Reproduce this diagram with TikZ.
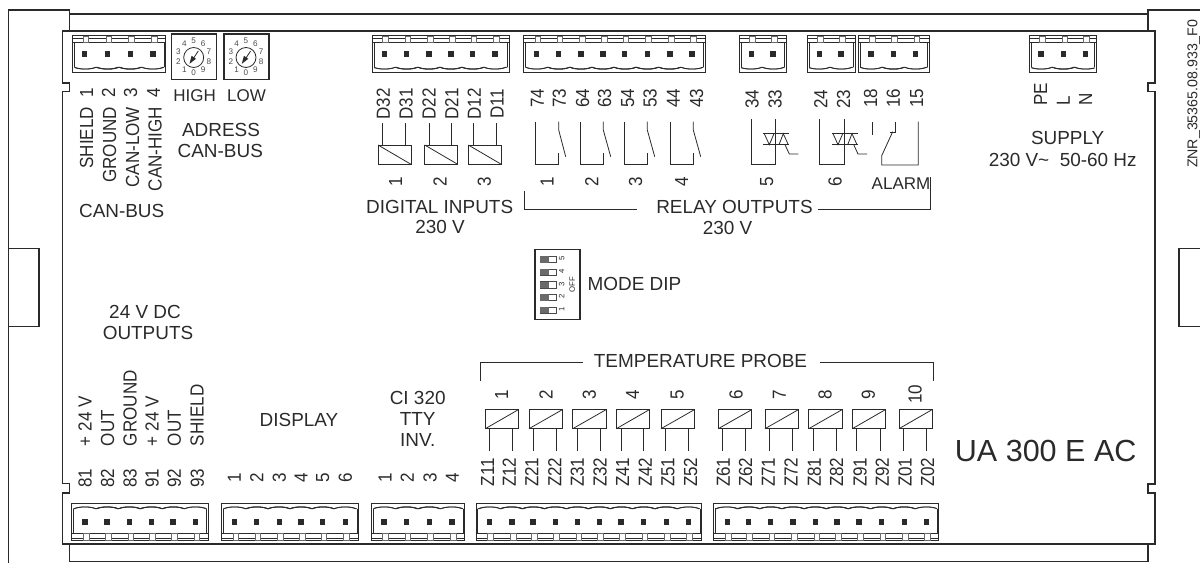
\documentclass[tikz,border=0pt]{standalone}
\usepackage{fontspec}
\usepackage{graphicx}
\setmainfont{Liberation Sans}
\definecolor{ink}{HTML}{2A2A2A}
\newcount\lblc
\newcommand\tick{\global\advance\lblc by 1 }
\newcommand\fmain{\fontsize{12.75}{14}\selectfont}
\newcommand\fbig{\fontsize{14.2}{16}\selectfont}
\newcommand\fsmall{\fontsize{6.1}{7}\selectfont}
\newcommand\rtxt[1]{\scalebox{.9}[1]{\fbig #1}}
\newcommand\lab[3]{\tick\node[txt] (t\the\lblc) at (#1,#2) {\fmain #3};}
\newcommand\blab[3]{\tick\node[txt] (t\the\lblc) at (#1,#2) {\fbig #3};}
\newcommand\rlab[3]{\tick\node[txt,rotate=90] (t\the\lblc) at (#1,#2) {\rtxt{#3}};}
\newcommand\rend[3]{\tick\node[txt,rotate=90,anchor=east] (t\the\lblc) at (#1,#2) {\rtxt{#3}};}
\newcommand\rbeg[3]{\tick\node[txt,rotate=90,anchor=west] (t\the\lblc) at (#1,#2) {\rtxt{#3}};}
% plug: x0, x1, pins, outer y, yscale
\newcommand\plug[5]{%
 \begin{scope}[shift={(0,#4)},yscale=#5]
  \draw[thinl,line width=.75pt] (#1,0) rectangle (#2,36.8);
  \draw[thinl,line width=.4pt] (#1,2.3) -- (#2,2.3);
  \draw[thinl] (#1,6.6) -- (#2,6.6);
  \draw[thinl] (#1+1.7,6.6) -- (#1+1.7,31.5);
  \draw[thinl] (#2-1.7,6.6) -- (#2-1.7,31.5);
  \begin{scope}
   \clip (#1+1.7,20) rectangle (#2-1.7,36);
   \foreach \p in {#3}{
    \draw[thinl] (\p-11.2,31.5) .. controls (\p-5.6,34) and (\p+5.6,34) .. (\p+11.2,31.5);
    \draw[thinl] (\p-33,31.5) .. controls (\p-27.6,34) and (\p-17,34) .. (\p-11.2,31.5);
    \draw[thinl] (\p+11.2,31.5) .. controls (\p+17,34) and (\p+27.6,34) .. (\p+33,31.5);
   }
  \end{scope}
  \foreach \p in {#3}{
   \draw[draw=ink!70,fill=white,line width=.4pt] (\p-1.6,0.2) rectangle (\p+4,6.6);
   \fill[ink] (\p-2.6,15.8) rectangle (\p+2.6,21);
  }
 \end{scope}}
\newcommand\coil[5]{\draw[thinl] (#1,#3) rectangle (#2,#4);\draw[thinl] (#1,#5) -- (#2,#3+#4-#5);}
\newcommand\rotary[1]{%
 \begin{scope}[shift={(#1,0)}]
  \draw[thinl,line width=.9pt] (171.7,34) rectangle (216.7,79.3);
  \draw[thinl] (193.7,57.5) circle (10);
  \foreach \d in {0,...,9}{
   \tick\node[txt,text=ink!85] (t\the\lblc) at ({193.7+16*cos(270-36*\d)},{57-16*sin(270-36*\d)}) {\fsmall \d};
  }
  \draw[thinl] (198.3,51) -- (193,59);
  \fill[ink] (189.5,63.8) -- (191.6,55.8) -- (196,58.8) -- cycle;
 \end{scope}}
\newcommand\relaysym[3]{\draw[thinl] (#1,121.7) -- (#1,164.3) -- (#2,164.3) -- (#2,153.3);
 \draw[thinl] (#2,121.7) -- (#2,130) -- (#3,156.7);}
\newcommand\triac[1]{%
 \begin{scope}[shift={(#1,0)}]
  \draw[thinl] (751,119.3) -- (751,164) -- (775.7,164) -- (775.7,119.3);
  \draw[thinl] (763.3,133.7) -- (789.3,133.7) (763.3,144.7) -- (789.3,144.7);
  \draw[thinl] (764.3,133.7) -- (769.3,144.7) -- (774,133.7);
  \draw[thinl] (779,144.7) -- (783.3,133.7) -- (788.3,144.7);
  \draw[thinl] (785,144.7) -- (789.3,154) -- (798.3,154);
 \end{scope}}
\tikzset{
 txt/.style={inner sep=0pt,outer sep=0pt,text=ink},
 frame/.style={draw=ink,line width=.95pt,line join=miter},
 thinl/.style={draw=ink,line width=.6pt}
}
\begin{document}
\begin{tikzpicture}[x=.75pt,y=-.75pt]
\useasboundingbox (0,0) rectangle (1200,563);
% frames
\draw[frame] (8.3,563) -- (8.3,10) -- (69.3,10) -- (69.3,31);
\draw[frame] (69.3,14) -- (1148,14);
\draw[frame] (1148,31) -- (1148,10) -- (1200,10);
\draw[frame] (62.7,31) -- (1155,31) -- (1155,83) -- (1148,83) -- (1148,91.5) -- (1155,91.5) -- (1155,484) -- (1148,484) -- (1148,493) -- (1155,493) -- (1155,544) -- (62.7,544) -- (62.7,493) -- (69.3,493) -- (69.3,483.5) -- (62.7,483.5) -- (62.7,91.5) -- (69.3,91.5) -- (69.3,83) -- (62.7,83) -- cycle;
\draw[frame] (69.3,544) -- (69.3,561.8) -- (1148,561.8) -- (1148,544);
\draw[frame] (8.3,248.7) -- (39,248.7) -- (39,326.7) -- (8.3,326.7);
\draw[frame] (1200,248.3) -- (1179,248.3) -- (1179,326.7) -- (1200,326.7);
% top plugs
\plug{72.7}{165.7}{84.7,107.7,130.3,153}{35.7}{1}
\plug{372.3}{509}{384.3,406.7,429,451,472.7,495}{35.7}{1}
\plug{523.7}{705}{536.7,558.7,581,603,624.7,647.3,670,692}{35.7}{1}
\plug{739.3}{786.3}{751.3,773}{35.7}{1}
\plug{807.3}{855}{819.3,841}{35.7}{1}
\plug{858.3}{929.3}{871,893.3,915.7}{35.7}{1}
\plug{1029.7}{1096.3}{1041,1063.7,1085.3}{35.7}{1}
% bottom plugs
\plug{71.7}{208.3}{85,107,129.7,151.3,173,195.7}{540.3}{-1}
\plug{221.7}{358.7}{234.7,256.7,279.3,301,322.7,345.3}{540.3}{-1}
\plug{371.7}{464.7}{384,406.7,429.3,452}{540.3}{-1}
\plug{476}{701.7}{489.3,512,533,555.3,577.7,599.3,621,643.7,666.3,688.3}{540.3}{-1}
\plug{713.3}{938.7}{727.3,748.3,770.7,793,815.7,837,859,881.7,904.3,926.3}{540.3}{-1}
% rotary switches
\rotary{0}
\rotary{52.3}
% CAN labels
\rlab{86.5}{93}{1}\rlab{108.5}{93}{2}\rlab{130.5}{93}{3}\rlab{153.5}{93}{4}
\rend{86.7}{107}{SHIELD}\rend{109.7}{107}{GROUND}\rend{132.7}{107}{CAN-LOW}\rend{155}{107}{CAN-HIGH}
\blab{121.7}{211}{CAN-BUS}
\lab{194.7}{95.3}{HIGH}\lab{246.5}{95.3}{LOW}
\blab{221}{130}{ADRESS}\blab{220.3}{151}{CAN-BUS}
% digital inputs
\rlab{383.3}{104}{D32}\rlab{406}{104}{D31}\rlab{429}{104}{D22}\rlab{451.7}{104}{D21}\rlab{474.3}{104}{D12}\rlab{497}{104}{D11}
\draw[thinl] (382.7,123.3) -- (382.7,145) (405.3,123.3) -- (405.3,145) (429,123.3) -- (429,145) (451.7,123.3) -- (451.7,145) (473,123.3) -- (473,145) (496,123.3) -- (496,145);
\coil{378}{411}{145}{164.3}{145}
\coil{424.7}{457.7}{145}{164.3}{145}
\coil{468.3}{501.3}{145}{164.3}{145}
\rlab{395.7}{181.7}{1}\rlab{440}{181.7}{2}\rlab{484.3}{181.7}{3}
\blab{439.7}{206.7}{DIGITAL INPUTS}\blab{440}{227.3}{230 V}
% relays
\rlab{537.3}{98.5}{74}\rlab{559.3}{98.5}{73}\rlab{582.7}{98.5}{64}\rlab{604.7}{98.5}{63}\rlab{627.7}{98.5}{54}\rlab{650}{98.5}{53}\rlab{673.3}{98.5}{44}\rlab{696.7}{98.5}{43}
\rlab{752}{99}{34}\rlab{775}{99}{33}\rlab{820.7}{99}{24}\rlab{843.7}{99}{23}\rlab{870.7}{98}{18}\rlab{893.3}{98}{16}\rlab{916.7}{98}{15}
\relaysym{535.7}{558.7}{565.7}
\relaysym{580.3}{603.3}{610.7}
\relaysym{624}{647.3}{654.7}
\relaysym{670}{693.3}{700.7}
\triac{0}
\triac{68.7}
\draw[thinl] (872.7,122.3) -- (872.7,135);
\draw[thinl] (895.7,121.7) -- (895.7,132.3) -- (889.5,132.3);
\draw[thinl] (892.7,131.7) -- (881.7,155.7) -- (881.7,165) -- (918.3,165) -- (918.3,121.7);
\rlab{547}{181.7}{1}\rlab{591.7}{181.7}{2}\rlab{635.7}{181.7}{3}\rlab{681.7}{181.7}{4}\rlab{766.7}{181.7}{5}\rlab{835}{181.7}{6}
\lab{901}{184}{ALARM}
\blab{734.5}{206.7}{RELAY OUTPUTS}\blab{727.5}{227.5}{230 V}
\draw[thinl] (524.7,190.7) -- (524.7,209.3) -- (636.7,209.3);
\draw[thinl] (817.7,209.3) -- (930,209.3) -- (930,177);
% supply
\rbeg{1040.7}{105.5}{PE}\rbeg{1063.3}{105.5}{L}\rbeg{1085.7}{105.5}{N}
\blab{1067.7}{138.3}{SUPPLY}
\blab{1062.7}{160}{230 V\textasciitilde\ \ 50-60 Hz}
% side code
\tick\node[txt,rotate=90,anchor=base west] (t\the\lblc) at (1197.3,168) {\fontsize{10.65}{12}\selectfont ZNR\_35365.08.933\_F0};
% DIP
\draw[thinl,line width=.8pt] (535,249.3) rectangle (580,319.3);
\foreach \yy/\dd in {259.3/5,272/4,284.7/3,297.3/2,310/1}{
 \draw[draw=ink!85,line width=.4pt,fill=white] (540,\yy-3.2) rectangle (556,\yy+3.2);
 \fill[ink!70] (540,\yy-3.2) rectangle (548.6,\yy+3.2);
 \tick\node[txt,rotate=90] (t\the\lblc) at (561.7,\yy-.7) {\fontsize{5.8}{7}\selectfont \dd};
}
\tick\node[txt,rotate=90] (t\the\lblc) at (572.3,285) {\fontsize{5.8}{7}\selectfont OFF};
\blab{634.5}{284}{MODE DIP}
% lower left
\blab{145}{312.3}{24 V DC}\blab{148}{333.3}{OUTPUTS}
\rbeg{85}{446}{+ 24 V}\rbeg{107.7}{446}{OUT}\rbeg{130}{446}{GROUND}\rbeg{152}{446}{+ 24 V}\rbeg{174.3}{446}{OUT}\rbeg{197}{446}{SHIELD}
\rlab{85}{478}{81}\rlab{107.7}{478}{82}\rlab{130}{478}{83}\rlab{152}{478}{91}\rlab{174.3}{478}{92}\rlab{197.3}{478}{93}
\blab{299}{420.3}{DISPLAY}
\rlab{234.3}{478}{1}\rlab{256.7}{478}{2}\rlab{279.3}{478}{3}\rlab{301}{478}{4}\rlab{322.7}{478}{5}\rlab{345.3}{478}{6}
\blab{417.7}{397.7}{CI 320}\blab{417.7}{419}{TTY}\blab{417.7}{440}{INV.}
\rlab{385}{478}{1}\rlab{407.3}{478}{2}\rlab{430}{478}{3}\rlab{452.3}{478}{4}
% temperature probes
\blab{700.5}{361.3}{TEMPERATURE PROBE}
\draw[thinl] (480.3,381) -- (480.3,362.3) -- (582.7,362.3);
\draw[thinl] (820,362.3) -- (933.3,362.3) -- (933.3,381);
\rlab{501.7}{394.3}{1}\rlab{546}{394.3}{2}\rlab{589.3}{394.3}{3}\rlab{632.7}{394.3}{4}\rlab{677.3}{394.3}{5}\rlab{736}{394.3}{6}\rlab{779.3}{394.3}{7}\rlab{825}{394.3}{8}\rlab{868.3}{394.3}{9}\rlab{915}{394}{10}
\coil{485.3}{518.3}{409.7}{428.7}{428.7}
\coil{529}{562.3}{409.7}{428.7}{428.7}
\coil{572.7}{606}{409.7}{428.7}{428.7}
\coil{616.3}{649.3}{409.7}{428.7}{428.7}
\coil{661}{694.3}{409.7}{428.7}{428.7}
\coil{718.3}{751.7}{409.7}{428.7}{428.7}
\coil{765}{798.3}{409.7}{428.7}{428.7}
\coil{808.7}{842}{409.7}{428.7}{428.7}
\coil{852.3}{885.3}{409.7}{428.7}{428.7}
\coil{899}{932}{409.7}{428.7}{428.7}
\foreach \xx in {489.7,512.7,533.7,556.7,577.3,600.3,621,643.7,665.7,688.7,722.7,745.7,769.7,792.7,813.3,836.3,856.7,880,903.3,926.7}{
 \draw[thinl] (\xx,428.7) -- (\xx,450.7);
}
\rlab{487.7}{472.3}{Z11}\rlab{509.3}{472.3}{Z12}\rlab{531.7}{472.3}{Z21}\rlab{554.7}{472.3}{Z22}\rlab{577.3}{472.3}{Z31}\rlab{600}{472.3}{Z32}\rlab{622.7}{472.3}{Z41}\rlab{645.3}{472.3}{Z42}\rlab{668}{472.3}{Z51}\rlab{690.7}{472.3}{Z52}
\rlab{723.3}{472.3}{Z61}\rlab{745.7}{472.3}{Z62}\rlab{768.3}{472.3}{Z71}\rlab{791}{472.3}{Z72}\rlab{814.3}{472.3}{Z81}\rlab{836.7}{472.3}{Z82}\rlab{860}{472.3}{Z91}\rlab{882.3}{472.3}{Z92}\rlab{905}{472.3}{Z01}\rlab{927.7}{472.3}{Z02}
\tick\node[txt] (t\the\lblc) at (1045.7,451) {\fontsize{22.9}{26}\selectfont UA 300 E AC};
\end{tikzpicture}
\end{document}
